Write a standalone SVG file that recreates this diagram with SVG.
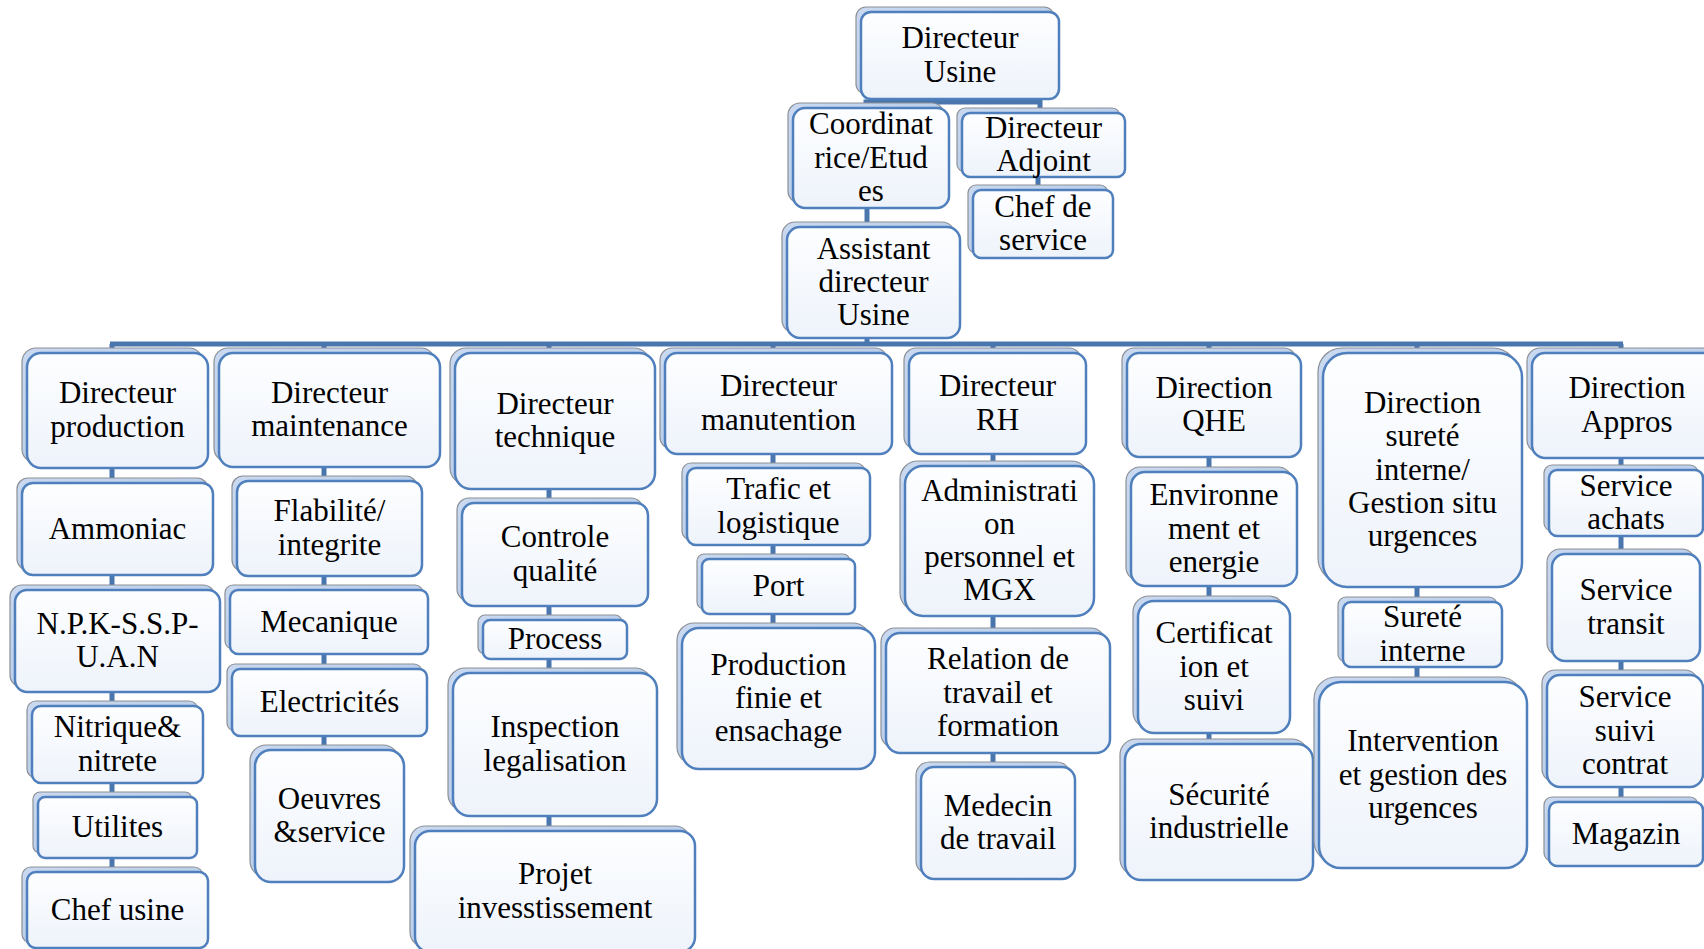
<svg xmlns="http://www.w3.org/2000/svg" width="1704" height="949" viewBox="0 0 1704 949">
  <defs>
    <linearGradient id="faceFill" x1="0" y1="0" x2="0" y2="1">
      <stop offset="0" stop-color="#fdfeff"/>
      <stop offset="1" stop-color="#eef3fb"/>
    </linearGradient>
    <linearGradient id="backFill" x1="0" y1="0" x2="1" y2="1">
      <stop offset="0" stop-color="#c9d9f0"/>
      <stop offset="1" stop-color="#aec6e8"/>
    </linearGradient>
    <style>
      .back { fill: url(#backFill); stroke: #8d8f94; stroke-width: 1.2; }
      .front { fill: url(#faceFill); stroke: #4f7fbc; stroke-width: 2.5; }
      .lbl { font-family: "Liberation Serif", "Times New Roman", serif; font-size: 31px; fill: #000; text-anchor: middle; }
      .link { fill: none; stroke: #4a76ae; stroke-width: 5; stroke-linejoin: miter; }
    </style>
  </defs>
  <rect width="1704" height="949" fill="#ffffff"/>

  <!-- connectors -->
  <g id="connectors">
    <path class="link" d="M960 99 V102 M866 110 V102 H1040 V115"/>
    <path class="link" d="M867 208 V229"/>
    <path class="link" d="M1038 177 V192"/>
    <path class="link" d="M867 338 V344"/>
    <path class="link" d="M110 344 H1623"/>
    <path class="link" d="M112 344 V860 M112 860 V874"/>
    <path class="link" d="M324 344 V752"/>
    <path class="link" d="M549 344 V833"/>
    <path class="link" d="M773 344 V630"/>
    <path class="link" d="M993 344 V769"/>
    <path class="link" d="M1209 344 V746"/>
    <path class="link" d="M1417 344 V684"/>
    <path class="link" d="M1621 344 V804"/>
  </g>

  <!-- top management -->
  <g id="n-directeur-usine">
    <rect class="back" x="856" y="7" width="198" height="87" rx="10"/>
    <rect class="front" x="861" y="12" width="198" height="87" rx="10"/>
    <text class="lbl" x="960" y="48.4"><tspan x="960">Directeur</tspan><tspan x="960" dy="33.2">Usine</tspan></text>
  </g>
  <g id="n-coordinatrice">
    <rect class="back" x="788" y="103" width="156" height="100" rx="12"/>
    <rect class="front" x="793" y="108" width="156" height="100" rx="12"/>
    <text class="lbl" x="871" y="134.3"><tspan x="871">Coordinat</tspan><tspan x="871" dy="33.2">rice/Etud</tspan><tspan x="871" dy="33.2">es</tspan></text>
  </g>
  <g id="n-directeur-adjoint">
    <rect class="back" x="957" y="108" width="163" height="64" rx="8"/>
    <rect class="front" x="962" y="113" width="163" height="64" rx="8"/>
    <text class="lbl" x="1043.5" y="137.9"><tspan x="1043.5">Directeur</tspan><tspan x="1043.5" dy="33.2">Adjoint</tspan></text>
  </g>
  <g id="n-chef-de-service">
    <rect class="back" x="968" y="185" width="140" height="68" rx="8"/>
    <rect class="front" x="973" y="190" width="140" height="68" rx="8"/>
    <text class="lbl" x="1043" y="216.9"><tspan x="1043">Chef de</tspan><tspan x="1043" dy="33.2">service</tspan></text>
  </g>
  <g id="n-assistant">
    <rect class="back" x="782" y="222" width="173" height="111" rx="13"/>
    <rect class="front" x="787" y="227" width="173" height="111" rx="13"/>
    <text class="lbl" x="873.5" y="258.8"><tspan x="873.5">Assistant</tspan><tspan x="873.5" dy="33.2">directeur</tspan><tspan x="873.5" dy="33.2">Usine</tspan></text>
  </g>

  <!-- production -->
  <g id="n-dir-production">
    <rect class="back" x="22" y="348" width="181" height="115" rx="14"/>
    <rect class="front" x="27" y="353" width="181" height="115" rx="14"/>
    <text class="lbl" x="117.5" y="403.4"><tspan x="117.5">Directeur</tspan><tspan x="117.5" dy="33.2">production</tspan></text>
  </g>
  <g id="n-ammoniac">
    <rect class="back" x="17" y="478" width="191" height="92" rx="11"/>
    <rect class="front" x="22" y="483" width="191" height="92" rx="11"/>
    <text class="lbl" x="117.5" y="538.5">Ammoniac</text>
  </g>
  <g id="n-npk">
    <rect class="back" x="10" y="585" width="205" height="102" rx="12"/>
    <rect class="front" x="15" y="590" width="205" height="102" rx="12"/>
    <text class="lbl" x="117.5" y="633.9"><tspan x="117.5">N.P.K-S.S.P-</tspan><tspan x="117.5" dy="33.2">U.A.N</tspan></text>
  </g>
  <g id="n-nitrique">
    <rect class="back" x="27" y="701" width="171" height="77" rx="9"/>
    <rect class="front" x="32" y="706" width="171" height="77" rx="9"/>
    <text class="lbl" x="117.5" y="737.4"><tspan x="117.5">Nitrique&amp;</tspan><tspan x="117.5" dy="33.2">nitrete</tspan></text>
  </g>
  <g id="n-utilites">
    <rect class="back" x="33" y="792" width="159" height="61" rx="7"/>
    <rect class="front" x="38" y="797" width="159" height="61" rx="7"/>
    <text class="lbl" x="117.5" y="837">Utilites</text>
  </g>
  <g id="n-chef-usine">
    <rect class="back" x="22" y="867" width="181" height="76" rx="9"/>
    <rect class="front" x="27" y="872" width="181" height="76" rx="9"/>
    <text class="lbl" x="117.5" y="919.5">Chef usine</text>
  </g>

  <!-- maintenance -->
  <g id="n-dir-maintenance">
    <rect class="back" x="214" y="348" width="221" height="114" rx="14"/>
    <rect class="front" x="219" y="353" width="221" height="114" rx="14"/>
    <text class="lbl" x="329.5" y="402.9"><tspan x="329.5">Directeur</tspan><tspan x="329.5" dy="33.2">maintenance</tspan></text>
  </g>
  <g id="n-flabilite">
    <rect class="back" x="232" y="476" width="185" height="95" rx="11"/>
    <rect class="front" x="237" y="481" width="185" height="95" rx="11"/>
    <text class="lbl" x="329.5" y="521.4"><tspan x="329.5">Flabilité/</tspan><tspan x="329.5" dy="33.2">integrite</tspan></text>
  </g>
  <g id="n-mecanique">
    <rect class="back" x="225" y="585" width="198" height="64" rx="8"/>
    <rect class="front" x="230" y="590" width="198" height="64" rx="8"/>
    <text class="lbl" x="329" y="631.5">Mecanique</text>
  </g>
  <g id="n-electricites">
    <rect class="back" x="227" y="664" width="195" height="67" rx="8"/>
    <rect class="front" x="232" y="669" width="195" height="67" rx="8"/>
    <text class="lbl" x="329.5" y="712">Electricités</text>
  </g>
  <g id="n-oeuvres">
    <rect class="back" x="250" y="745" width="149" height="132" rx="16"/>
    <rect class="front" x="255" y="750" width="149" height="132" rx="16"/>
    <text class="lbl" x="329.5" y="808.9"><tspan x="329.5">Oeuvres</tspan><tspan x="329.5" dy="33.2">&amp;service</tspan></text>
  </g>

  <!-- technique -->
  <g id="n-dir-technique">
    <rect class="back" x="450" y="348" width="200" height="136" rx="16"/>
    <rect class="front" x="455" y="353" width="200" height="136" rx="16"/>
    <text class="lbl" x="555" y="413.9"><tspan x="555">Directeur</tspan><tspan x="555" dy="33.2">technique</tspan></text>
  </g>
  <g id="n-controle">
    <rect class="back" x="457" y="498" width="186" height="103" rx="12"/>
    <rect class="front" x="462" y="503" width="186" height="103" rx="12"/>
    <text class="lbl" x="555" y="547.4"><tspan x="555">Controle</tspan><tspan x="555" dy="33.2">qualité</tspan></text>
  </g>
  <g id="n-process">
    <rect class="back" x="478" y="615" width="144" height="39" rx="7"/>
    <rect class="front" x="483" y="620" width="144" height="39" rx="7"/>
    <text class="lbl" x="555" y="649">Process</text>
  </g>
  <g id="n-inspection">
    <rect class="back" x="448" y="668" width="204" height="143" rx="17"/>
    <rect class="front" x="453" y="673" width="204" height="143" rx="17"/>
    <text class="lbl" x="555" y="737.4"><tspan x="555">Inspection</tspan><tspan x="555" dy="33.2">legalisation</tspan></text>
  </g>
  <g id="n-projet">
    <rect class="back" x="410" y="826" width="280" height="121" rx="15"/>
    <rect class="front" x="415" y="831" width="280" height="121" rx="15"/>
    <text class="lbl" x="555" y="884.4"><tspan x="555">Projet</tspan><tspan x="555" dy="33.2">invesstissement</tspan></text>
  </g>

  <!-- manutention -->
  <g id="n-dir-manutention">
    <rect class="back" x="660" y="348" width="227" height="101" rx="12"/>
    <rect class="front" x="665" y="353" width="227" height="101" rx="12"/>
    <text class="lbl" x="778.5" y="396.4"><tspan x="778.5">Directeur</tspan><tspan x="778.5" dy="33.2">manutention</tspan></text>
  </g>
  <g id="n-trafic">
    <rect class="back" x="682" y="463" width="183" height="77" rx="9"/>
    <rect class="front" x="687" y="468" width="183" height="77" rx="9"/>
    <text class="lbl" x="778.5" y="499.4"><tspan x="778.5">Trafic et</tspan><tspan x="778.5" dy="33.2">logistique</tspan></text>
  </g>
  <g id="n-port">
    <rect class="back" x="697" y="554" width="153" height="55" rx="7"/>
    <rect class="front" x="702" y="559" width="153" height="55" rx="7"/>
    <text class="lbl" x="778.5" y="596">Port</text>
  </g>
  <g id="n-production-finie">
    <rect class="back" x="677" y="623" width="193" height="141" rx="17"/>
    <rect class="front" x="682" y="628" width="193" height="141" rx="17"/>
    <text class="lbl" x="778.5" y="674.8"><tspan x="778.5">Production</tspan><tspan x="778.5" dy="33.2">finie et</tspan><tspan x="778.5" dy="33.2">ensachage</tspan></text>
  </g>

  <!-- RH -->
  <g id="n-dir-rh">
    <rect class="back" x="904" y="348" width="177" height="101" rx="12"/>
    <rect class="front" x="909" y="353" width="177" height="101" rx="12"/>
    <text class="lbl" x="997.5" y="396.4"><tspan x="997.5">Directeur</tspan><tspan x="997.5" dy="33.2">RH</tspan></text>
  </g>
  <g id="n-administration">
    <rect class="back" x="900" y="461" width="189" height="150" rx="18"/>
    <rect class="front" x="905" y="466" width="189" height="150" rx="18"/>
    <text class="lbl" x="999.5" y="500.7"><tspan x="999.5">Administrati</tspan><tspan x="999.5" dy="33.2">on</tspan><tspan x="999.5" dy="33.2">personnel et</tspan><tspan x="999.5" dy="33.2">MGX</tspan></text>
  </g>
  <g id="n-relation">
    <rect class="back" x="881" y="628" width="224" height="120" rx="14"/>
    <rect class="front" x="886" y="633" width="224" height="120" rx="14"/>
    <text class="lbl" x="998" y="669.3"><tspan x="998">Relation de</tspan><tspan x="998" dy="33.2">travail et</tspan><tspan x="998" dy="33.2">formation</tspan></text>
  </g>
  <g id="n-medecin">
    <rect class="back" x="916" y="762" width="154" height="112" rx="13"/>
    <rect class="front" x="921" y="767" width="154" height="112" rx="13"/>
    <text class="lbl" x="998" y="815.9"><tspan x="998">Medecin</tspan><tspan x="998" dy="33.2">de travail</tspan></text>
  </g>

  <!-- QHE -->
  <g id="n-dir-qhe">
    <rect class="back" x="1122" y="348" width="174" height="104" rx="12"/>
    <rect class="front" x="1127" y="353" width="174" height="104" rx="12"/>
    <text class="lbl" x="1214" y="397.9"><tspan x="1214">Direction</tspan><tspan x="1214" dy="33.2">QHE</tspan></text>
  </g>
  <g id="n-environnement">
    <rect class="back" x="1126" y="467" width="166" height="114" rx="14"/>
    <rect class="front" x="1131" y="472" width="166" height="114" rx="14"/>
    <text class="lbl" x="1214" y="505.3"><tspan x="1214">Environne</tspan><tspan x="1214" dy="33.2">ment et</tspan><tspan x="1214" dy="33.2">energie</tspan></text>
  </g>
  <g id="n-certification">
    <rect class="back" x="1133" y="596" width="152" height="132" rx="16"/>
    <rect class="front" x="1138" y="601" width="152" height="132" rx="16"/>
    <text class="lbl" x="1214" y="643.3"><tspan x="1214">Certificat</tspan><tspan x="1214" dy="33.2">ion et</tspan><tspan x="1214" dy="33.2">suivi</tspan></text>
  </g>
  <g id="n-securite">
    <rect class="back" x="1120" y="739" width="188" height="136" rx="16"/>
    <rect class="front" x="1125" y="744" width="188" height="136" rx="16"/>
    <text class="lbl" x="1219" y="804.9"><tspan x="1219">Sécurité</tspan><tspan x="1219" dy="33.2">industrielle</tspan></text>
  </g>

  <!-- surete -->
  <g id="n-dir-surete">
    <rect class="back" x="1318" y="348" width="199" height="234" rx="24"/>
    <rect class="front" x="1323" y="353" width="199" height="234" rx="24"/>
    <text class="lbl" x="1422.5" y="413.1"><tspan x="1422.5">Direction</tspan><tspan x="1422.5" dy="33.2">sureté</tspan><tspan x="1422.5" dy="33.2">interne/</tspan><tspan x="1422.5" dy="33.2">Gestion situ</tspan><tspan x="1422.5" dy="33.2">urgences</tspan></text>
  </g>
  <g id="n-surete-interne">
    <rect class="back" x="1338" y="597" width="159" height="65" rx="8"/>
    <rect class="front" x="1343" y="602" width="159" height="65" rx="8"/>
    <text class="lbl" x="1422.5" y="627.4"><tspan x="1422.5">Sureté</tspan><tspan x="1422.5" dy="33.2">interne</tspan></text>
  </g>
  <g id="n-intervention">
    <rect class="back" x="1314" y="677" width="208" height="186" rx="22"/>
    <rect class="front" x="1319" y="682" width="208" height="186" rx="22"/>
    <text class="lbl" x="1423" y="751.3"><tspan x="1423">Intervention</tspan><tspan x="1423" dy="33.2">et gestion des</tspan><tspan x="1423" dy="33.2">urgences</tspan></text>
  </g>

  <!-- appros -->
  <g id="n-dir-appros">
    <rect class="back" x="1527" y="348" width="190" height="105" rx="13"/>
    <rect class="front" x="1532" y="353" width="190" height="105" rx="13"/>
    <text class="lbl" x="1627" y="398.4"><tspan x="1627">Direction</tspan><tspan x="1627" dy="33.2">Appros</tspan></text>
  </g>
  <g id="n-achats">
    <rect class="back" x="1544" y="465" width="154" height="66" rx="8"/>
    <rect class="front" x="1549" y="470" width="154" height="66" rx="8"/>
    <text class="lbl" x="1626" y="495.9"><tspan x="1626">Service</tspan><tspan x="1626" dy="33.2">achats</tspan></text>
  </g>
  <g id="n-transit">
    <rect class="back" x="1547" y="549" width="148" height="107" rx="13"/>
    <rect class="front" x="1552" y="554" width="148" height="107" rx="13"/>
    <text class="lbl" x="1626" y="600.4"><tspan x="1626">Service</tspan><tspan x="1626" dy="33.2">transit</tspan></text>
  </g>
  <g id="n-suivi-contrat">
    <rect class="back" x="1542" y="670" width="156" height="112" rx="13"/>
    <rect class="front" x="1547" y="675" width="156" height="112" rx="13"/>
    <text class="lbl" x="1625" y="707.3"><tspan x="1625">Service</tspan><tspan x="1625" dy="33.2">suivi</tspan><tspan x="1625" dy="33.2">contrat</tspan></text>
  </g>
  <g id="n-magazin">
    <rect class="back" x="1544" y="797" width="154" height="64" rx="8"/>
    <rect class="front" x="1549" y="802" width="154" height="64" rx="8"/>
    <text class="lbl" x="1626" y="843.5">Magazin</text>
  </g>
</svg>
